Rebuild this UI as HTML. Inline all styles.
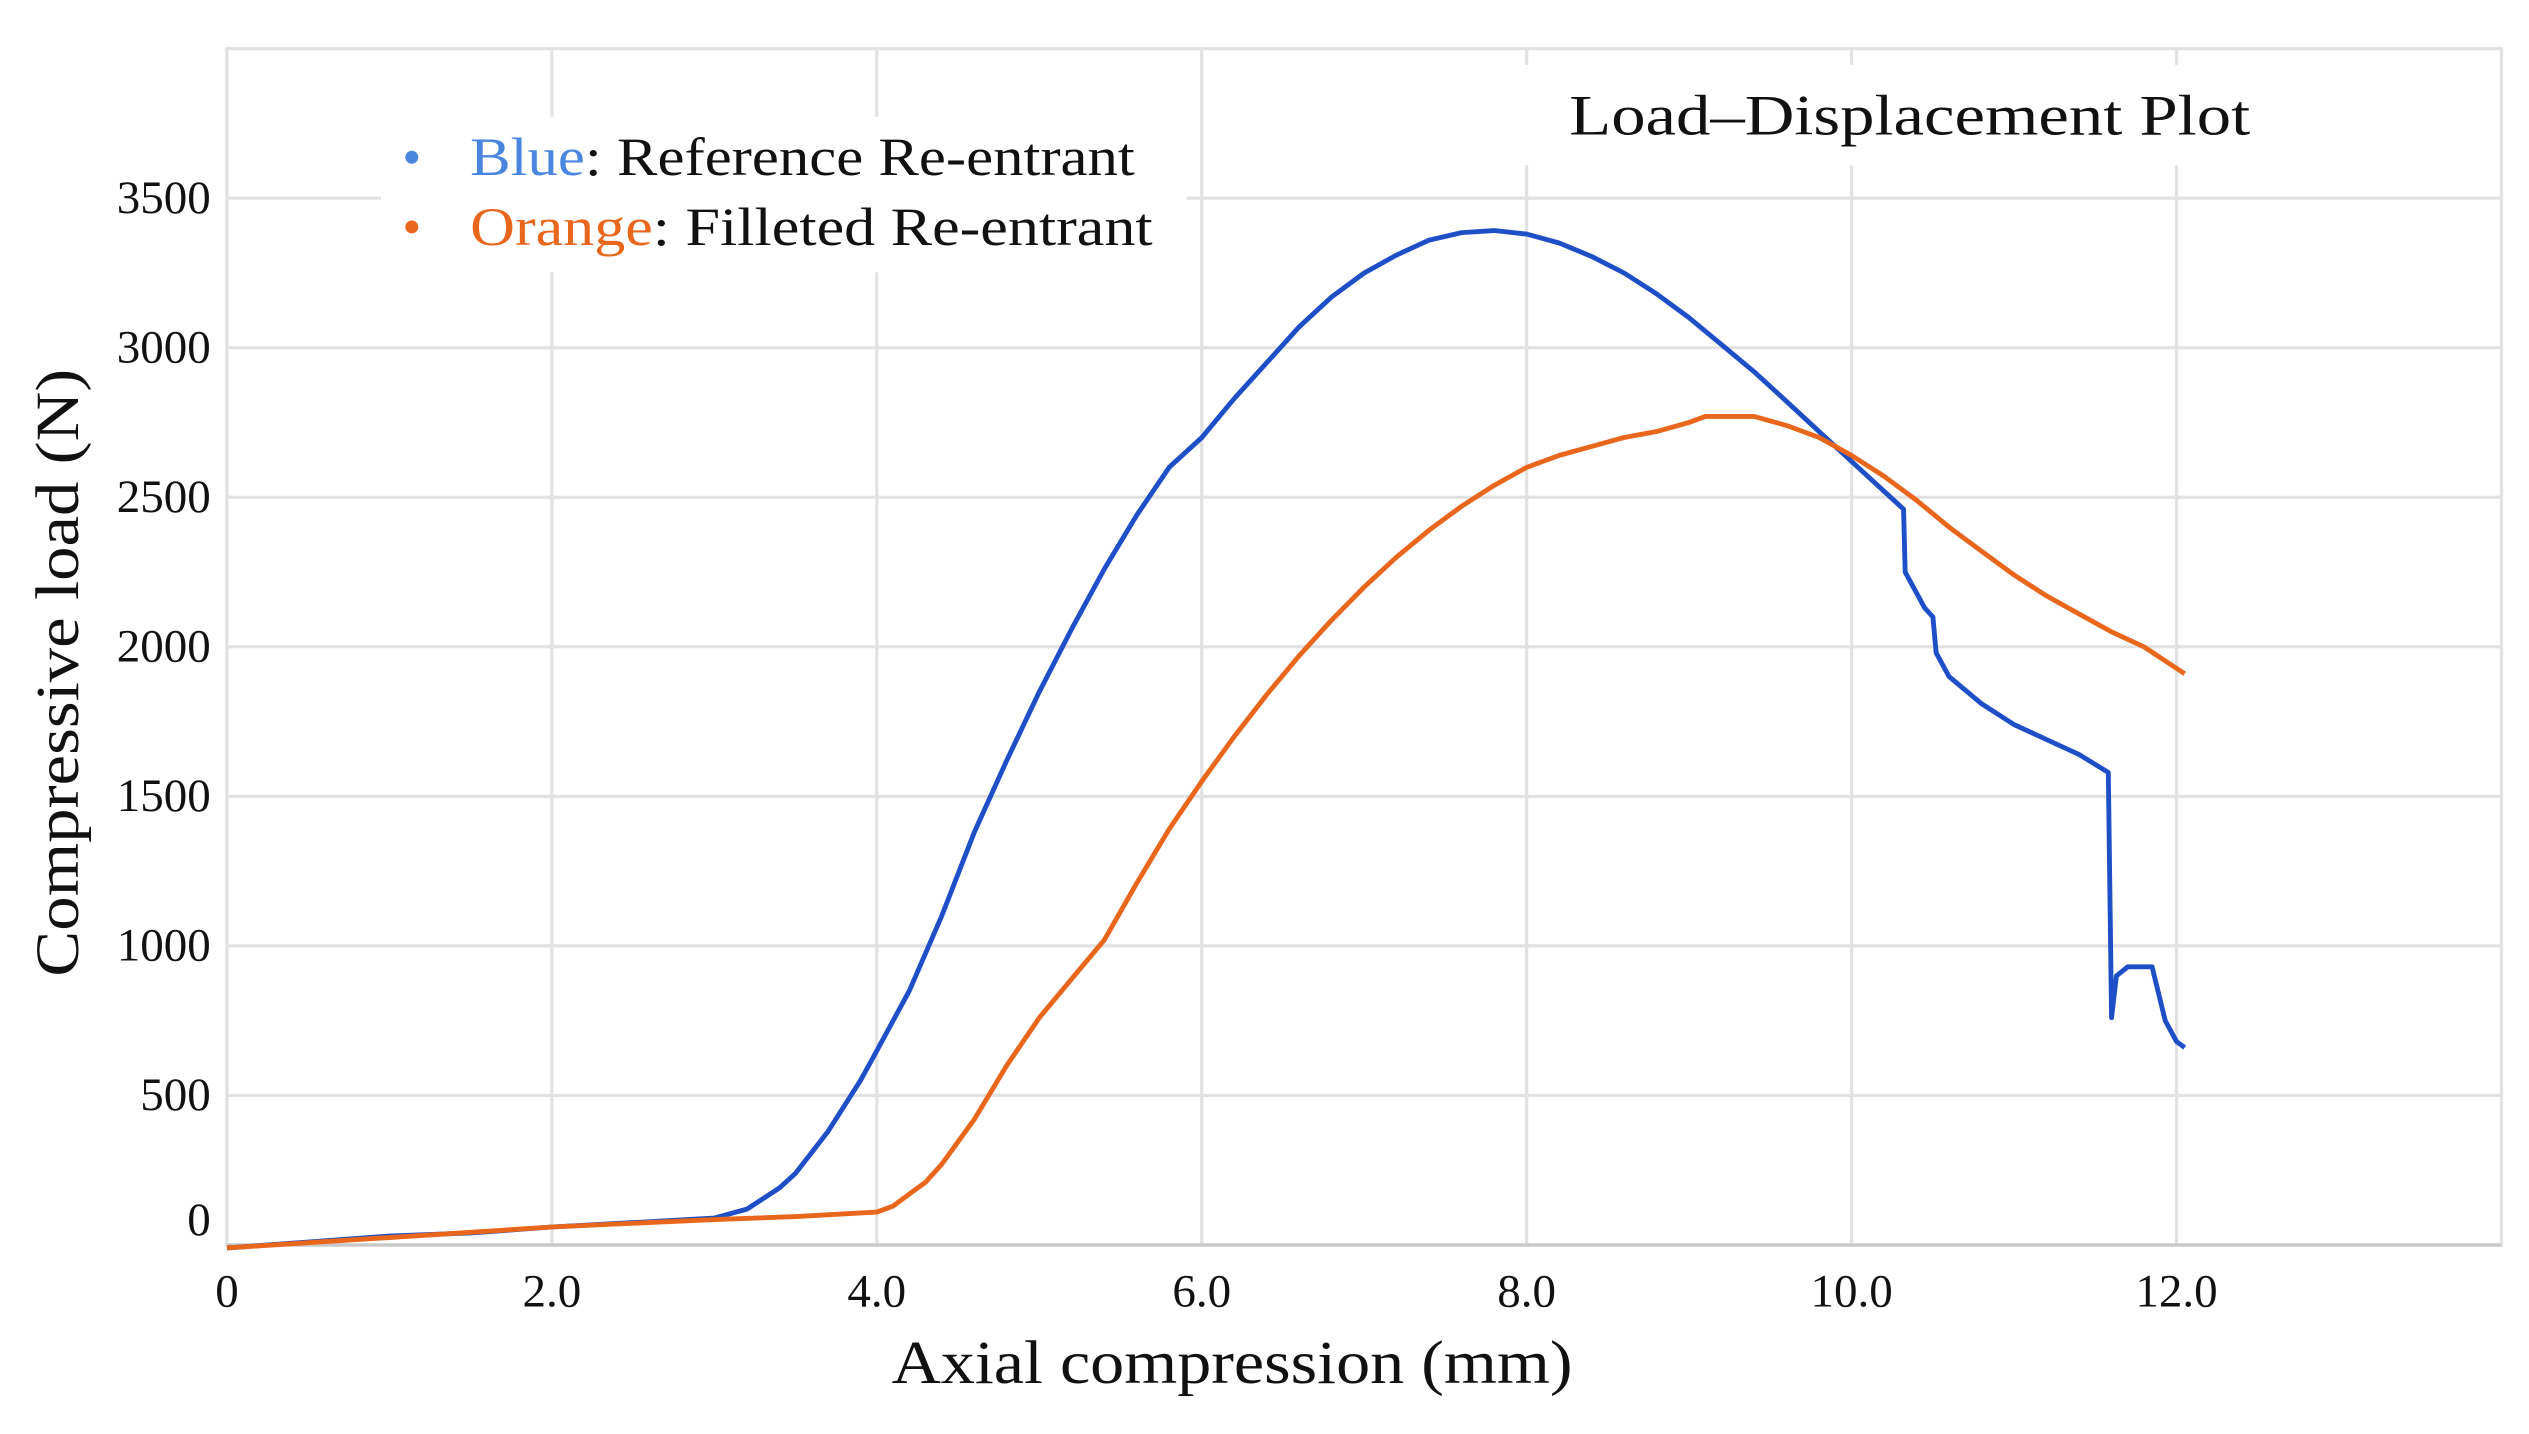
<!DOCTYPE html>
<html><head><meta charset="utf-8"><style>
html,body{margin:0;padding:0;background:#fff;}
svg{display:block;}
text{font-family:"Liberation Serif",serif;fill:#111;}
</style></head><body>
<svg id="chart" width="2529" height="1434" viewBox="0 0 1560 884.6" preserveAspectRatio="none" xmlns="http://www.w3.org/2000/svg">
<g id="grid"></g>
<g id="axes"></g>
<g id="series"></g>
<rect x="940" y="40" width="600" height="62" fill="#fff"/>
<text x="968" y="83" font-size="35" textLength="420" lengthAdjust="spacingAndGlyphs">Load–Displacement Plot</text>
<rect x="235" y="72" width="497" height="96" fill="#fff"/>
<g>
<circle cx="254" cy="97" r="4" fill="#4a86e0"/>
<text x="290" y="108" font-size="33" textLength="410" lengthAdjust="spacingAndGlyphs"><tspan fill="#4a86e0">Blue</tspan>: Reference Re-entrant</text></g>
<g>
<circle cx="254" cy="140" r="4" fill="#e8671c"/>
<text x="290" y="151" font-size="33" textLength="421" lengthAdjust="spacingAndGlyphs"><tspan fill="#e8671c">Orange</tspan>: Filleted Re-entrant</text></g>
<text x="760" y="853" font-size="38" text-anchor="middle" textLength="420" lengthAdjust="spacingAndGlyphs">Axial compression (mm)</text>
<text transform="translate(48,415) rotate(-90)" font-size="38" text-anchor="middle" textLength="375" lengthAdjust="spacingAndGlyphs">Compressive load (N)</text>
</svg>
<script>
const xTicks=[0,2,4,6,8,10,12];
const xTickLabels=["0","2.0","4.0","6.0","8.0","10.0","12.0"];
const yTicks=[0,500,1000,1500,2000,2500,3000,3500];
const blueX=[0,0.5,1,1.5,2,2.5,3,3.2,3.4,3.5,3.7,3.9,4.0,4.2,4.4,4.6,4.8,5.0,5.2,5.4,5.6,5.8,6.0,6.2,6.4,6.6,6.8,7.0,7.2,7.4,7.6,7.8,8.0,8.2,8.4,8.6,8.8,9.0,9.2,9.4,9.6,9.8,10.0,10.2,10.32,10.33,10.45,10.5,10.52,10.6,10.8,11.0,11.2,11.4,11.58,11.6,11.63,11.7,11.85,11.93,12.0,12.05];
const blueY=[-10,10,30,40,60,75,90,120,190,240,380,550,650,850,1100,1380,1620,1850,2060,2260,2440,2600,2700,2830,2950,3070,3170,3250,3310,3360,3385,3392,3380,3350,3305,3250,3180,3100,3010,2920,2820,2720,2620,2520,2460,2250,2130,2100,1980,1900,1810,1740,1690,1640,1580,760,900,930,930,750,680,660];
const orangeX=[0,1,2,3,3.5,4.0,4.1,4.2,4.3,4.4,4.6,4.8,5.0,5.2,5.4,5.6,5.8,6.0,6.2,6.4,6.6,6.8,7.0,7.2,7.4,7.6,7.8,8.0,8.2,8.4,8.6,8.8,9.0,9.1,9.4,9.6,9.8,10.0,10.2,10.4,10.6,10.8,11.0,11.2,11.4,11.6,11.8,12.05];
const orangeY=[-10,25,60,85,95,110,130,170,210,270,420,600,760,890,1020,1210,1390,1550,1700,1840,1970,2090,2200,2300,2390,2470,2540,2600,2640,2670,2700,2720,2750,2770,2770,2740,2700,2640,2570,2490,2400,2320,2240,2170,2110,2050,2000,1910];
const X0=140,X1=1543,Y0=768,Y1=30,XMAX=14,YMAX=4000;
const sx=v=>X0+(X1-X0)*v/XMAX;
const sy=v=>Y0-(Y0-Y1)*v/YMAX;
const NS="http://www.w3.org/2000/svg";
function mk(tag,parent,attrs){const e=document.createElementNS(NS,tag);for(const k in attrs)e.setAttribute(k,attrs[k]);parent.appendChild(e);return e;}
const grid=document.getElementById('grid'),axes=document.getElementById('axes'),series=document.getElementById('series');
let bg=mk('rect',grid,{x:X0,y:Y1,width:X1-X0,height:Y0-Y1,fill:'#fff',stroke:'#e2e2e2','stroke-width':2});


xTicks.forEach((t,i)=>{
 let l=mk('line',grid,{x1:sx(t),x2:sx(t),y1:Y1,y2:Y0,stroke:'#e2e2e2','stroke-width':2});
 
 
 let tx=mk('text',axes,{x:sx(t),y:Y0+38,'font-size':29,'text-anchor':'middle'});
 tx.textContent=xTickLabels[i];
 
 
});
yTicks.forEach(t=>{
 let l=mk('line',grid,{x1:X0,x2:X1,y1:sy(t),y2:sy(t),stroke:'#e2e2e2','stroke-width':2});
 
 
 let tx=mk('text',axes,{x:130,y:sy(t)+(t===0?-6:9),'font-size':29,'text-anchor':'end'});
 tx.textContent=String(t);
 
 
});
let ax=mk('line',axes,{x1:X0,x2:X1,y1:Y0,y2:Y0,stroke:'#c8c8c8','stroke-width':2});


function path(xs,ys){return xs.map((x,i)=>(i?'L':'M')+sx(x).toFixed(1)+','+sy(ys[i]).toFixed(1)).join(' ');}
let po=mk('path',series,{d:path(orangeX,orangeY),fill:'none',stroke:'#e8671c','stroke-width':3,'stroke-linejoin':'round'});


let pb=mk('path',series,{d:path(blueX,blueY),fill:'none',stroke:'#1f4fc7','stroke-width':3,'stroke-linejoin':'round'});


series.appendChild(po);
</script>
</body></html>
